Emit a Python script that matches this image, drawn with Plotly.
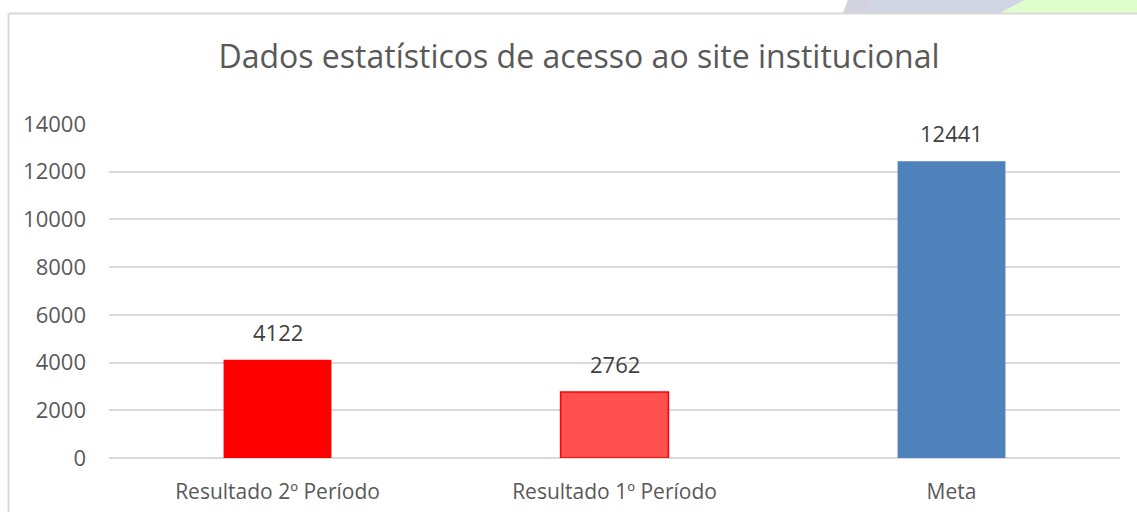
import plotly.graph_objects as go

# data
categories = ['Resultado 2º Período', 'Resultado 1º Período', 'Meta']
values = [4122, 2762, 12441]
bar_colors = ['#FF0000', '#FF5050', '#4F81BD']
line_colors = ['#FF0000', '#FF0000', '#4F81BD']
tick_vals = [0, 2000, 4000, 6000, 8000, 10000, 12000, 14000]

W, H = 1137, 512
L, R, T, B = 109, 17, 124, 54
pw, ph = W - L - R, H - T - B


def px(x):
    return (x - L) / pw


def py(y):
    return (H - B - y) / ph


fig = go.Figure()

fig.add_trace(
    go.Bar(
        x=categories,
        y=values,
        width=0.32,
        marker=dict(color=bar_colors, line=dict(color=line_colors, width=[0, 1.5, 0])),
        cliponaxis=False,
    )
)

# value labels above the bars
for c, v in zip(categories, values):
    fig.add_annotation(
        x=c, y=v, text=str(v), showarrow=False,
        yanchor='middle', yshift=28,
        font=dict(size=22, color='#404040'),
    )

grey = '#D9D9D9'
shapes = [
    # decorative band at top right
    dict(type='path', xref='paper', yref='paper', layer='below', line=dict(width=0),
         fillcolor='#D0D6E4',
         path=f'M {px(843)} {py(13)} L {px(848)} {py(0)} L {px(1025)} {py(0)} L {px(1000)} {py(13)} Z'),
    dict(type='path', xref='paper', yref='paper', layer='below', line=dict(width=0),
         fillcolor='#D3D2E1',
         path=f'M {px(843)} {py(13)} L {px(848)} {py(0)} L {px(870)} {py(0)} L {px(868)} {py(13)} Z'),
    dict(type='path', xref='paper', yref='paper', layer='below', line=dict(width=0),
         fillcolor='#E0FDCC',
         path=f'M {px(1000)} {py(13)} L {px(1025)} {py(0)} L {px(1137)} {py(0)} L {px(1137)} {py(13)} Z'),
    # chart border
    dict(type='line', xref='paper', yref='paper', x0=px(8.5), y0=py(13.5), x1=px(1137), y1=py(13.5),
         line=dict(color=grey, width=2)),
    dict(type='line', xref='paper', yref='paper', x0=px(8.5), y0=py(13.5), x1=px(8.5), y1=py(512),
         line=dict(color=grey, width=2)),
]

fig.update_layout(
    width=W,
    height=H,
    margin=dict(l=L, r=R, t=T, b=B, pad=0),
    paper_bgcolor='white',
    plot_bgcolor='white',
    font=dict(family='Open Sans, sans-serif', color='#595959'),
    title=dict(
        text='Dados estatísticos de acesso ao site institucional',
        x=579 / W,
        xanchor='center',
        y=1 - 57 / H,
        yanchor='middle',
        font=dict(size=32, color='#595959'),
    ),
    showlegend=False,
    shapes=shapes,
    xaxis=dict(
        showgrid=False,
        showline=False,
        ticks='',
        automargin=False,
        tickfont=dict(size=21, color='#595959'),
        ticklabelstandoff=19,
    ),
    yaxis=dict(
        range=[0, 14000],
        tickvals=tick_vals,
        tickformat='d',
        showgrid=True,
        gridcolor=grey,
        gridwidth=1.5,
        zeroline=True,
        zerolinecolor=grey,
        zerolinewidth=1.5,
        showline=False,
        ticks='',
        automargin=False,
        tickfont=dict(size=22, color='#595959'),
        ticklabelstandoff=22,
    ),
)

fig.write_html(
    'out.html',
    config={'displayModeBar': False},
    post_script="document.body.style.margin='0px';",
)
